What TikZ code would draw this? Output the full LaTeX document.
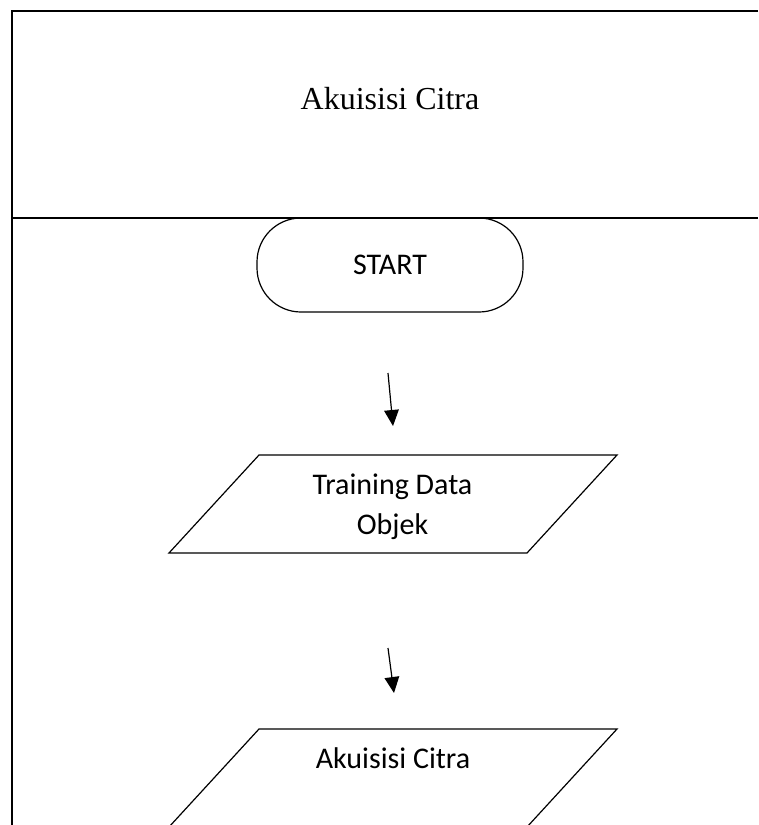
\documentclass[tikz,border=0pt]{standalone}
\usepackage{fontspec}
\setmainfont{Liberation Serif}
\newfontfamily\calibri{Carlito}
\usetikzlibrary{shapes.geometric, arrows.meta, positioning}

\begin{document}
\begin{tikzpicture}[
  x=0.75pt, y=-0.75pt,
  frame/.style={line width=1.5pt},
  terminal/.style={rectangle, draw, line width=0.9pt, rounded corners=33pt, minimum width=199.5pt, minimum height=70.5pt, font=\calibri\fontsize{22.5}{30}\selectfont},
  io/.style={draw, line width=0.9pt, line join=miter},
  txt/.style={font=\calibri\fontsize{22.5}{30}\selectfont, align=center},
  line/.style={draw, line width=0.9pt, -{Triangle[width=11pt, length=12pt]}}
]
  \useasboundingbox (0,0) rectangle (758,825);

  % table frame
  \draw [frame] (758,11) -- (12,11) -- (12,825);
  \draw [frame] (12,218) -- (758,218);
  \node [anchor=base, font=\fontsize{24}{28}\selectfont] (title) at (390,109) {Akuisisi Citra};

  % flow
  \node [terminal] (start) at (390,265) {START};

  % input parallelograms
  \draw [io] (169,553) -- (259,455) -- (617,455) -- (527,553) -- cycle;
  \node [txt] (training) at (392.5,507) {Training Data\\Objek};
  \draw [io] (169,827) -- (259,729) -- (617,729) -- (527,827) -- cycle;
  \node [txt, anchor=base] (akuisisi) at (393,768) {Akuisisi Citra};

  \coordinate (a1s) at (388,373);
  \coordinate (a1e) at (393,426);
  \coordinate (a2s) at (388,648);
  \coordinate (a2e) at (394,693);
  \draw [line] (a1s) -- (a1e);
  \draw [line] (a2s) -- (a2e);
\end{tikzpicture}
\end{document}
